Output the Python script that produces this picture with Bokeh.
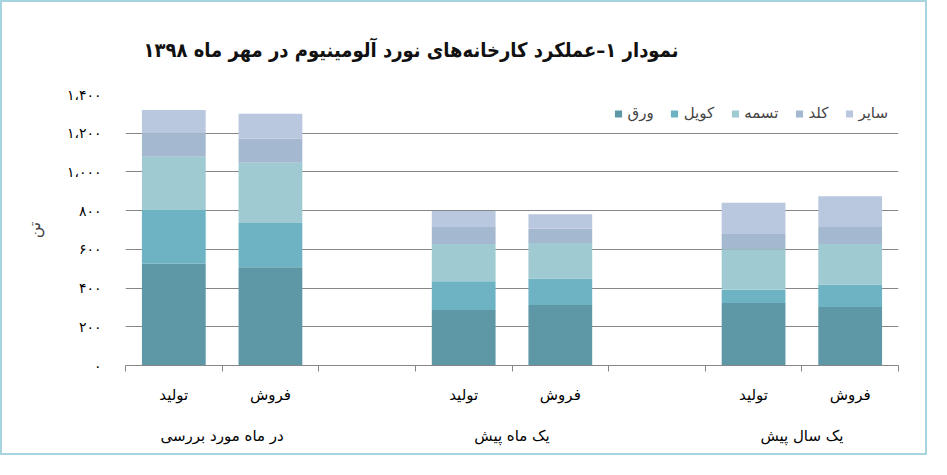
from bokeh.plotting import figure
from bokeh.models import ColumnDataSource, Range1d, LinearAxis, FixedTicker
from bokeh.embed import file_html
from bokeh.resources import INLINE

# ---------------- data ----------------
groups = ["در ماه مورد بررسی", "یک ماه پیش", "یک سال پیش"]
kinds = ["تولید", "فروش"]
series_names = ["ورق", "کویل", "تسمه", "کلد", "سایر"]
series_keys = ["varagh", "coil", "tasmeh", "kold", "sayer"]
varagh = [526, 508, 287, 312, 323, 302]
coil = [277, 228, 148, 138, 68, 115]
tasmeh = [275, 312, 193, 183, 209, 211]
kold = [122, 125, 92, 75, 83, 87]
sayer = [120, 127, 78, 74, 158, 160]
y_ticks = [0, 200, 400, 600, 800, 1000, 1200, 1400]
y_tick_labels = ["۰", "۲۰۰", "۴۰۰", "۶۰۰", "۸۰۰", "۱،۰۰۰", "۱،۲۰۰", "۱،۴۰۰"]
y_label = "تن"
title_text = "نمودار ۱–عملکرد کارخانه‌های نورد آلومینیوم در مهر ماه ۱۳۹۸"
colors = ["#5e97a5", "#6db3c3", "#9fcad2", "#a4b8d0", "#b9c8de"]

FONT = "DejaVu Sans"

# slot layout: each group has len(kinds) slots plus one empty slot between groups
slot = len(kinds) + 1
n_slots = len(groups) * slot - 1
bar_x = [gi * slot + ki + 0.5 for gi in range(len(groups)) for ki in range(len(kinds))]
bar_kind = [k for g in groups for k in kinds]
group_x = [gi * slot + len(kinds) / 2 for gi in range(len(groups))]
boundaries = list(range(n_slots + 1))

source = ColumnDataSource(dict(x=bar_x, varagh=varagh, coil=coil,
                               tasmeh=tasmeh, kold=kold, sayer=sayer))

p = figure(width=927, height=455, x_range=Range1d(0, n_slots),
           y_range=Range1d(0, 1400),
           output_backend="svg", toolbar_location=None, x_axis_location=None,
           min_border_left=123, min_border_right=31, min_border_top=91,
           min_border_bottom=92)
p.styles = {"border": "2px solid #a8d4e0"}
p.outline_line_color = None
p.background_fill_color = "white"
p.border_fill_color = "white"

p.title.text = title_text
p.title.align = "left"
p.title.offset = 18
p.title.standoff = 66
p.title.text_font = "DejaVu Sans Condensed"
p.title.text_font_size = "20px"
p.title.text_font_style = "bold"
p.title.text_color = "#111111"

p.vbar_stack(series_keys, x="x", width=0.66, color=colors, line_color=None,
             source=source, legend_label=series_names)

# axis 1: line, boundary ticks (minor) and bar labels
kind_axis = LinearAxis(ticker=FixedTicker(ticks=bar_x, minor_ticks=boundaries))
kind_axis.major_label_overrides = dict(zip(bar_x, bar_kind))
kind_axis.axis_line_color = "#868686"
kind_axis.major_tick_line_color = None
kind_axis.major_tick_out = 0
kind_axis.major_tick_in = 0
kind_axis.minor_tick_line_color = "#868686"
kind_axis.minor_tick_out = 6
kind_axis.minor_tick_in = 0
kind_axis.major_label_standoff = 14
kind_axis.major_label_text_font = FONT
kind_axis.major_label_text_font_size = "15px"
kind_axis.major_label_text_color = "black"
p.add_layout(kind_axis, "below")

# axis 2: group labels
group_axis = LinearAxis(ticker=FixedTicker(ticks=group_x))
group_axis.major_label_overrides = dict(zip(group_x, groups))
group_axis.axis_line_color = None
group_axis.major_tick_line_color = None
group_axis.minor_tick_line_color = None
group_axis.major_tick_out = 0
group_axis.major_tick_in = 0
group_axis.major_label_standoff = 20
group_axis.major_label_text_font = FONT
group_axis.major_label_text_font_size = "15px"
group_axis.major_label_text_color = "black"
p.add_layout(group_axis, "below")

p.yaxis.ticker = FixedTicker(ticks=y_ticks)
p.yaxis.major_label_overrides = dict(zip(y_ticks, y_tick_labels))
p.yaxis.axis_line_color = None
p.yaxis.major_tick_line_color = None
p.yaxis.minor_tick_line_color = None
p.yaxis.major_tick_out = 0
p.yaxis.major_tick_in = 0
p.yaxis.major_label_standoff = 24
p.yaxis.major_label_text_font = FONT
p.yaxis.major_label_text_font_size = "14px"
p.yaxis.major_label_text_color = "black"
p.yaxis.axis_label = y_label
p.yaxis.axis_label_text_font = FONT
p.yaxis.axis_label_text_font_size = "16px"
p.yaxis.axis_label_text_font_style = "normal"
p.yaxis.axis_label_standoff = 20

p.xgrid.grid_line_color = None
p.ygrid.grid_line_color = "#868686"
p.ygrid.grid_line_width = 1

lg = p.legend[0]
lg.orientation = "horizontal"
lg.location = "top_right"
lg.border_line_color = None
lg.background_fill_alpha = 0
lg.label_text_font = FONT
lg.label_text_font_size = "15px"
lg.glyph_width = 9
lg.glyph_height = 9
lg.label_standoff = 5
lg.spacing = 16
lg.margin = 10
lg.padding = 5

open("out.html", "w").write(file_html(p, INLINE))
